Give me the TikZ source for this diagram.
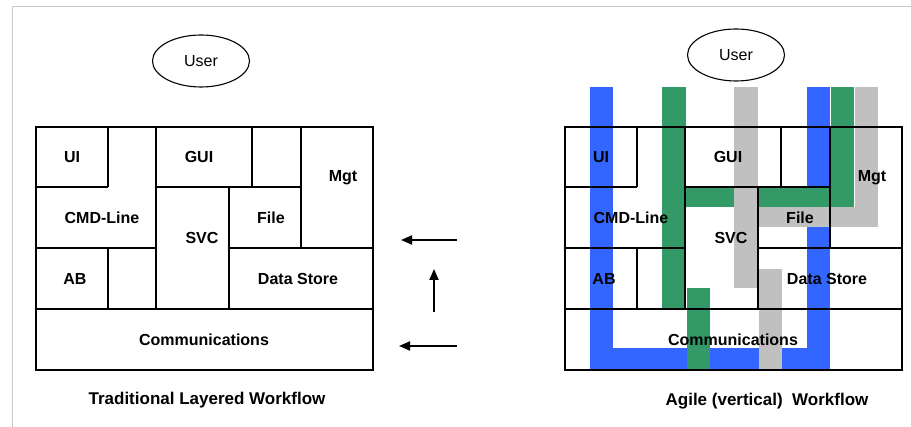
\documentclass[tikz,border=0pt]{standalone}
\usepackage{fontspec}
\setmainfont{Liberation Sans}
\usetikzlibrary{shapes.geometric, positioning, arrows.meta}
\definecolor{agileblue}{RGB}{51,102,255}
\definecolor{agilegreen}{RGB}{51,153,102}
\definecolor{agilegray}{RGB}{192,192,192}
\definecolor{framegray}{RGB}{200,200,200}
\tikzset{
    cell/.style = {draw, line width=2pt},
    tag/.style = {font=\fontsize{16}{19}\selectfont\bfseries, inner sep=0pt},
}
\tikzset{
    user/.style = {draw, ellipse, line width=1.1pt, minimum width=97pt, minimum height=52pt, inner sep=0pt, font=\fontsize{16}{19}\selectfont},
    caption/.style = {font=\fontsize{17}{20}\selectfont\bfseries, inner sep=0pt},
    flow/.style = {line width=2pt, -{Triangle[length=11pt, width=9pt]}},
}

\begin{document}
\begin{tikzpicture}[x=1pt, y=-1pt]
    \useasboundingbox (0,0) rectangle (911,427);
    \draw[framegray, line width=1pt] (12,427) -- (12,7) -- (911,7);

    \node[user] (userL) at (201, 61) {User};
    \node[user] (userR) at (736, 55) {User};

    \fill[agileblue] (590,87) rectangle (613,370);
    \fill[agileblue] (590,348) rectangle (830,370);
    \fill[agileblue] (807,87) rectangle (830,370);
    \fill[agilegreen] (662,87) rectangle (686,309);
    \fill[agilegreen] (686,188) rectangle (854,207);
    \fill[agilegreen] (831,87) rectangle (854,207);
    \fill[agilegreen] (687,288) rectangle (710,370);
    \fill[agilegray] (734,87) rectangle (758,288);
    \fill[agilegray] (758,207) rectangle (878,227);
    \fill[agilegray] (855,87) rectangle (878,227);
    \fill[agilegray] (759,269) rectangle (782,370);

    \foreach \dx/\side in {0/L, 529/R} {
        \begin{scope}[xshift=\dx]
            \draw[cell] (36,127) rectangle (373,370);
            \draw[cell] (36,187) -- (108,187);
            \draw[cell] (156,187) -- (301,187);
            \draw[cell] (36,248) -- (156,248);
            \draw[cell] (229,248) -- (373,248);
            \draw[cell] (36,309) -- (373,309);
            \draw[cell] (108,127) -- (108,187);
            \draw[cell] (108,248) -- (108,309);
            \draw[cell] (156,127) -- (156,309);
            \draw[cell] (252,127) -- (252,187);
            \draw[cell] (301,127) -- (301,248);
            \draw[cell] (229,187) -- (229,309);

            \node[tag] (ui\side) at (72, 157) {UI};
            \node[tag] (cmd\side) at (102, 218) {CMD-Line};
            \node[tag] (gui\side) at (199, 157) {GUI};
            \node[tag] (mgt\side) at (343, 178) {Mgt};
            \node[tag] (svc\side) at (202, 238) {SVC};
            \node[tag] (file\side) at (271, 218) {File};
            \node[tag] (ab\side) at (75, 279) {AB};
            \node[tag] (store\side) at (298, 279) {Data Store};
            \node[tag] (comm\side) at (204, 340) {Communications};
        \end{scope}
    }

    \node[caption] (titleL) at (207, 400) {Traditional Layered Workflow};
    \node[caption] (titleR) at (767, 401) {Agile (vertical)\ \ Workflow};

    \coordinate (topin) at (457, 240);
    \coordinate (topout) at (401, 240);
    \coordinate (upin) at (434, 312);
    \coordinate (upout) at (434, 269);
    \coordinate (botin) at (457, 346);
    \coordinate (botout) at (399, 346);
    \draw[flow] (topin) -- (topout);
    \draw[flow] (upin) -- (upout);
    \draw[flow] (botin) -- (botout);
\end{tikzpicture}
\end{document}
